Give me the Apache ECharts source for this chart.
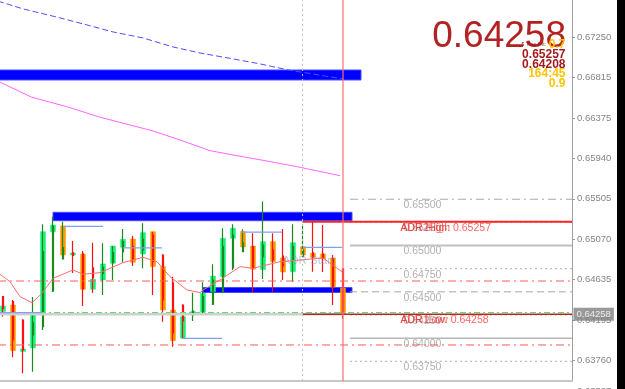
<!DOCTYPE html>
<html><head><meta charset="utf-8">
<script src="https://cdn.jsdelivr.net/npm/echarts@6/dist/echarts.min.js"></script>
<style>html,body{margin:0;padding:0;background:#fff}#c{width:625px;height:389px}</style>
</head><body><div id="c"></div>
<script>
// ---------- DATA ----------
// narrow candles: [open, close, low, high]
const candles = [
 [0.64448,0.64322,0.64232,0.64455],
 [0.64394,0.63980,0.63793,0.64412],
 [0.64196,0.63872,0.63620,0.64205],
 [0.64034,0.64164,0.63638,0.64444],
 [0.64124,0.64934,0.64088,0.65230],
 [0.64509,0.65211,0.64498,0.65312],
 [0.64855,0.64977,0.64850,0.65258],
 [0.64920,0.64893,0.64704,0.65049],
 [0.64909,0.64531,0.64347,0.64941],
 [0.64758,0.64650,0.64488,0.65031],
 [0.64700,0.64765,0.64466,0.65024],
 [0.64815,0.64923,0.64628,0.64995],
 [0.64934,0.65042,0.64819,0.65179],
 [0.64988,0.64862,0.64779,0.65103],
 [0.64952,0.65068,0.64754,0.65240],
 [0.65114,0.64826,0.64466,0.65150],
 [0.64898,0.64412,0.64178,0.64905],
 [0.64596,0.64056,0.63908,0.64664],
 [0.64358,0.64185,0.63999,0.64365],
 [0.64250,0.64293,0.64185,0.64491],
 [0.64286,0.64448,0.64260,0.64603],
 [0.64366,0.64628,0.64358,0.64798],
 [0.64495,0.64988,0.64484,0.65186],
 [0.64758,0.65114,0.64736,0.65230],
 [0.64934,0.65028,0.64930,0.65176],
 [0.64988,0.64754,0.64491,0.65132],
 [0.64880,0.65006,0.64639,0.65476],
 [0.64952,0.64844,0.64502,0.65132],
 [0.64887,0.64779,0.64628,0.65179],
 [0.64844,0.64988,0.64610,0.65230],
 [0.64880,0.64952,0.64875,0.65211],
 [0.64920,0.64876,0.64718,0.65257],
 [0.64909,0.64860,0.64714,0.65222],
 [0.64862,0.64556,0.64358,0.64898],
 [0.64747,0.64258,0.64208,0.64755]
];
// wide bodies: [open, close]
const haBodies = [
 [0.64286,0.64347],[0.64358,0.63864],[0.63856,0.63883],[0.63894,0.64272],
 [0.64268,0.65150],[0.65150,0.65222],[0.65211,0.64898],[0.64898,0.64920],
 [0.64906,0.64528],[0.64528,0.64636],[0.64628,0.64801],[0.64808,0.64995],
 [0.64981,0.65068],[0.65071,0.64819],[0.64909,0.65139],[0.65150,0.64772],
 [0.64772,0.64304],[0.64304,0.63972],[0.63998,0.64232],[0.64257,0.64286],
 [0.64279,0.64484],[0.64502,0.64671],[0.64664,0.65078],[0.65078,0.65186],
 [0.65152,0.64984],[0.64995,0.64744],[0.64741,0.65042],[0.65042,0.64826],
 [0.64866,0.64714],[0.64718,0.65031],[0.64988,0.64898],[0.64916,0.64873],
 [0.64909,0.64855],[0.64866,0.64554],[0.64542,0.64266]
];
// moving averages: [bar index, price]
const maRed = [[-0.3,0.64690],[0.7,0.64610],[1.7,0.64448],[2.9,0.64383],[3.9,0.64484],[5,0.64646],[7,0.64736],[8,0.64690],[9.7,0.64707],[12,0.64815],[14,0.64873],[15.4,0.64826],[16.7,0.64664],[18.4,0.64520],[19.7,0.64491],[20,0.64520],[21.7,0.64628],[23.7,0.64772],[25,0.64754],[27.7,0.64826],[29.7,0.64844],[32,0.64866],[33.4,0.64754],[33.9,0.64718]];
const maBlue = [[-0.5,0.67640],[2,0.67556],[5.7,0.67459],[8,0.67394],[11,0.67307],[14,0.67242],[17,0.67145],[19.7,0.67080],[23,0.67016],[25.7,0.66962],[28.5,0.66897],[34,0.66799]];
const maMagenta = [[-0.5,0.66775],[2.87,0.66602],[6.37,0.66500],[9.7,0.66386],[15,0.66238],[17.7,0.66140],[20.7,0.66025],[23,0.65978],[26.4,0.65913],[29.7,0.65845],[33.7,0.65755]];
// zones: [fromIndex, toIndex, topPrice, bottomPrice]
const zones = [[-0.5,35.8,0.66896,0.66788],[5,34.9,0.65359,0.65268],[20,34.9,0.64547,0.64493]];
// short range lines: [fromIndex, toIndex, price]
const rangeLines = [[6.1,10,0.65208],[12,15.9,0.64974],[-0.5,3.9,0.64275],[18,21.9,0.63998],[23.9,27.9,0.65146],[30,33.9,0.64981]];
// round-number levels
const levels = [0.65500,0.65250,0.65000,0.64750,0.64500,0.64250,0.64000,0.63750];
const levelLabels = ['0.65500','0.65250','0.65000','0.64750','0.64500','0.64250','0.64000','0.63750'];
const pivotLines = [0.64617,0.63926];
const greenLine = 0.64277;
const adrHigh = 0.65257, adrLow = 0.64258, lastPrice = 0.64258;
const adrStartIndex = 30, currentIndex = 34;
const priceTicks = [0.63760,0.64195,0.64635,0.65070,0.65505,0.65940,0.66375,0.66815,0.67250];
const infoLines = ['0.7','0.65257','0.64208','164:45','0.9'];

// ---------- CHART ----------
const FONT = "'Liberation Sans', Arial, sans-serif";
const X0 = -0.5, X1 = 56.9, Y0 = 0.63537, Y1 = 0.67652;
const chart = echarts.init(document.getElementById('c'));

function hline(x1, x2, v, lineStyle) {
  return {type:'line', data:[[x1,v],[x2,v]], symbol:'none', silent:true, lineStyle:lineStyle};
}
const levelStyles = [
  {color:'#a8a8a8', width:1, type:[8,4,2,4]},
  {color:'#b0b0b0', width:1, type:[2,3]},
  {color:'#c0c0c0', width:2, type:'solid'},
  {color:'#b0b0b0', width:1, type:[2,3]},
  {color:'#a8a8a8', width:1, type:[7,4]},
  {color:'#b0b0b0', width:1, type:[2,3]},
  {color:'#b8b8b8', width:1.5, type:'solid'},
  {color:'#b0b0b0', width:1, type:[2,3]}
];
const series = [];
// zones
series.push({type:'line', data:[], silent:true,
  markArea:{silent:true, itemStyle:{color:'#0000ff', borderColor:'#4a4aff', borderWidth:1},
    data: zones.map(z => [{coord:[z[0], z[2]]},{coord:[z[1], z[3]]}])}});
// levels
levels.forEach((v,i) => series.push(hline(34.7, X1, v, levelStyles[i])));
// pivot lines
pivotLines.forEach(v => series.push(hline(X0, X1, v, {color:'#ff5a5a', width:1, type:[8,4,2,4]})));
series.push(hline(X0, currentIndex, lastPrice, {color:'#cfcfcf', width:2.5}));
series.push(hline(X0, X1, greenLine, {color:'#5fdc5f', width:1, type:[6,3,2,3]}));
rangeLines.forEach(r => series.push(hline(r[0], r[1], r[2], {color:'#7f9ff2', width:1.3})));
series.push(hline(adrStartIndex - 0.05, X1, adrHigh, {color:'#ff2424', width:2}));
series.push(hline(adrStartIndex - 0.05, X1, adrLow, {color:'#b02a2a', width:1.5}));
// verticals
series.push({type:'line', data:[], silent:true,
  markLine:{silent:true, symbol:'none', label:{show:false},
    data:[{xAxis:adrStartIndex - 0.05, lineStyle:{color:'#c4c4c4', width:1, type:[2,3]}},
          {xAxis:currentIndex - 0.05, lineStyle:{color:'rgba(255,110,110,0.6)', width:2, type:'solid'}}]}});
// MAs
series.push({type:'line', data:maBlue, symbol:'none', silent:true, lineStyle:{color:'#4f4fff', width:1, type:[6,3]}});
series.push({type:'line', data:maMagenta, symbol:'none', silent:true, lineStyle:{color:'#ff66ff', width:1}});
series.push({type:'line', data:maRed, symbol:'none', silent:true, lineStyle:{color:'#ff6a6a', width:1}});
// wide bodies
series.push({type:'candlestick', silent:true, barWidth:6,
  data: haBodies.map((b,i) => [i, b[0], b[1], Math.min(b[0],b[1]), Math.max(b[0],b[1])]),
  itemStyle:{color:'#14f57d', color0:'#ff9a00', borderColor:'#14f57d', borderColor0:'#ff9a00', borderWidth:0.5}});
// narrow candles
series.push({type:'candlestick', silent:true, barWidth:2,
  data: candles.map((c,i) => [i, c[0], c[1], c[2], c[3]]),
  itemStyle:{color:'#108a10', color0:'#ff0000', borderColor:'#1a8a1a', borderColor0:'#ff1010', borderWidth:1.2}});
// text labels tied to data
const txt = (x, v, text, color, extra) => Object.assign({value:[x, v], label:Object.assign({formatter:text, color:color}, extra||{})});
series.push({type:'scatter', symbolSize:1, silent:true, itemStyle:{color:'transparent'},
  label:{show:true, position:'right', distance:0, offset:[0,6], fontSize:10.5, fontFamily:FONT},
  data: levels.map((v,i) => txt(40, v, levelLabels[i], '#9c9c9c')).concat([
    txt(39.7, adrHigh, 'ADR High: ' + adrHigh.toFixed(5), '#ff3b3b'),
    txt(39.7, adrHigh, 'ADR2High', 'rgba(220,40,40,0.75)'),
    txt(39.7, adrLow, 'ADR Low: ' + adrLow.toFixed(5), '#ff3b3b'),
    txt(39.7, adrLow, 'ADR1Low', 'rgba(220,40,40,0.75)'),
    txt(27.9, 0.64833, 'ADR Start', 'rgba(120,140,185,0.6)', {offset:[0,0], fontSize:11.5})
  ])});
// last price box
series.push({type:'scatter', symbolSize:1, silent:true, z:10, clip:false, itemStyle:{color:'transparent'},
  data:[{value:[X1, lastPrice]}],
  label:{show:true, position:'right', distance:1, formatter:lastPrice.toFixed(5),
    backgroundColor:'#808080', color:'#ffffff', padding:[2,3,1,3], fontSize:9.5, fontFamily:FONT}});

const graphics = [
  {type:'text', x:566, y:37, style:{text:lastPrice.toFixed(5), fill:'#b22222', font:'37px ' + FONT, textAlign:'right', textVerticalAlign:'middle'}},
  {type:'text', x:546, y:44.5, style:{text:'$ Time left:', fill:'#a01818', font:'5px ' + FONT, textAlign:'right', textVerticalAlign:'middle'}},
  {type:'rect', shape:{x:617, y:0, width:8, height:389}, style:{fill:'#000'}},
  {type:'text', x:577, y:391, style:{text:'0.63537', fill:'#888', font:'9.5px ' + FONT, textVerticalAlign:'middle'}}
];
const infoColors = ['#ffc400','#a01c1c','#a01c1c','#ffc400','#ffc400'];
infoLines.forEach((t,i) => graphics.push({type:'text', x:565.5, y:45 + i*9.6,
  style:{text:t, fill:infoColors[i], font:'bold 12px ' + FONT, textAlign:'right', textVerticalAlign:'middle'}}));

chart.setOption({
  animation:false,
  backgroundColor:'#ffffff',
  grid:{left:-2, right:53, top:0, bottom:8, outerBoundsMode:'none', containLabel:false},
  xAxis:{type:'value', min:X0, max:X1, axisLabel:{show:false}, axisTick:{show:false}, splitLine:{show:false},
    axisLine:{show:true, onZero:false, lineStyle:{color:'#c8c8c8', width:2}}},
  yAxis:{type:'value', position:'right', min:Y0, max:Y1, scale:true, splitLine:{show:false},
    axisLine:{show:true, onZero:false, lineStyle:{color:'#a0a0a0', width:1}},
    axisTick:{show:true, length:3, customValues:priceTicks, lineStyle:{color:'#999'}},
    axisLabel:{customValues:priceTicks, formatter:v => v.toFixed(5), color:'#858585', fontSize:9.5, fontFamily:FONT, margin:5}},
  series: series,
  graphic: graphics
});
</script></body></html>
